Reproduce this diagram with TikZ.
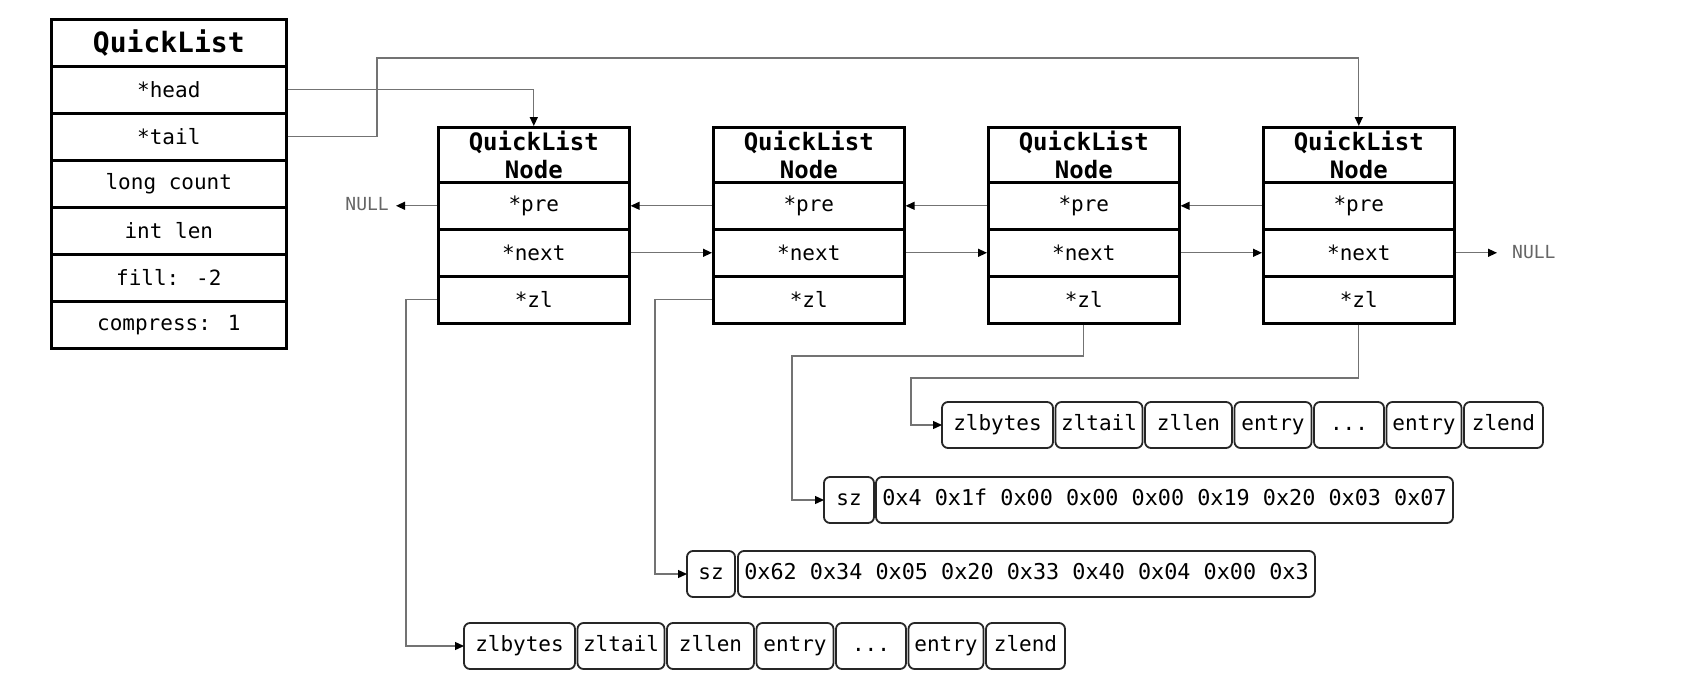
\documentclass[tikz,border=0pt]{standalone}
\usepackage{fontspec}
\setmainfont{DejaVu Sans Mono}
\usetikzlibrary{arrows.meta,positioning,calc}
\begin{document}
\begin{tikzpicture}[x=1pt,y=-1pt,
  qrow/.style={draw=black, line width=2.6pt, anchor=north west, inner sep=0pt,
    minimum width=235pt, minimum height=47pt, font=\fontsize{21}{24}\selectfont},
  qtitle/.style={qrow, font=\fontsize{28}{32}\selectfont\bfseries},
  nrow/.style={draw=black, line width=2.6pt, anchor=north west, inner sep=0pt,
    minimum width=191pt, minimum height=47pt, font=\fontsize{21}{24}\selectfont},
  ntitle/.style={nrow, minimum height=55pt, align=center,
    font=\fontsize{24}{28}\selectfont\bfseries},
  zcell/.style={draw=black!85, line width=1.8pt, rounded corners=6pt, inner sep=0pt,
    outer sep=0pt, text height=15pt, text depth=4pt,
    minimum height=46pt, font=\fontsize{21}{24}\selectfont},
  hexcell/.style={zcell, font=\fontsize{21.8}{24}\selectfont},
  conn/.style={draw=black!55, line width=1.3pt, -{Triangle[length=9pt,width=8pt,color=black]}},
  nulltxt/.style={text=black!60, inner sep=0pt, font=\fontsize{18}{20}\selectfont},
  node distance=2.5pt
]
\useasboundingbox[fill=white] (0,0) rectangle (1685,677);

% QuickList header box
\node[qtitle] (ql0) at (50,18)  {QuickList};
\node[qrow]   (ql1) at (50,65)  {*head};
\node[qrow]   (ql2) at (50,112) {*tail};
\node[qrow]   (ql3) at (50,159) {long count};
\node[qrow]   (ql4) at (50,206) {int len};
\node[qrow]   (ql5) at (50,253) {fill: -2};
\node[qrow]   (ql6) at (50,300) {compress: 1};

% QuickList nodes
\foreach \i/\x in {1/437,2/712,3/987,4/1262}{
  \node[ntitle] (t\i)  at (\x,126) {QuickList\\Node};
  \node[nrow]   (p\i)  at (\x,181) {*pre};
  \node[nrow]   (nx\i) at (\x,228) {*next};
  \node[nrow]   (z\i)  at (\x,275) {*zl};
}

% NULL labels
\node[nulltxt, anchor=east] (nullL) at (389,204.5) {NULL};
\node[nulltxt, anchor=west] (nullR) at (1512,252) {NULL};
\coordinate (eL) at (396,0);
\coordinate (eR) at (1497,0);

% top ziplist
\node[zcell, anchor=north west, minimum width=111pt] (a1) at (942,402) {zlbytes};
\node[zcell, right=of a1, minimum width=87pt] (a2) {zltail};
\node[zcell, right=of a2, minimum width=87pt] (a3) {zllen};
\node[zcell, right=of a3, minimum width=77pt] (a4) {entry};
\node[zcell, right=of a4, minimum width=70pt] (a5) {...};
\node[zcell, right=of a5, minimum width=75pt] (a6) {entry};
\node[zcell, right=of a6, minimum width=79pt] (a7) {zlend};

% hex rows
\node[zcell, anchor=north west, minimum width=50pt] (s1) at (824,477) {sz};
\node[hexcell, anchor=north west, minimum width=577pt] (h1) at (876,477)
  {0x4 0x1f 0x00 0x00 0x00 0x19 0x20 0x03 0x07};
\node[zcell, anchor=north west, minimum width=48pt] (s2) at (687,551) {sz};
\node[hexcell, anchor=north west, minimum width=577pt] (h2) at (738,551)
  {0x62 0x34 0x05 0x20 0x33 0x40 0x04 0x00 0x3};

% bottom ziplist
\node[zcell, anchor=north west, minimum width=111pt] (b1) at (464,623) {zlbytes};
\node[zcell, right=of b1, minimum width=87pt] (b2) {zltail};
\node[zcell, right=of b2, minimum width=87pt] (b3) {zllen};
\node[zcell, right=of b3, minimum width=77pt] (b4) {entry};
\node[zcell, right=of b4, minimum width=70pt] (b5) {...};
\node[zcell, right=of b5, minimum width=75pt] (b6) {entry};
\node[zcell, right=of b6, minimum width=79pt] (b7) {zlend};

% bend points
\coordinate (c1) at (377,58);
\coordinate (k1) at (406,400);
\coordinate (k2) at (655,400);
\coordinate (k3) at (792,356);
\coordinate (k4) at (911,378);

% head / tail
\draw[conn] (ql1.east) -| (t1.north);
\draw[conn] (ql2.east) -| (c1) -| (t4.north);

% pre / next
\draw[conn] (p1.west) -- (p1.west -| eL);
\draw[conn] (p2.west) -- (p1.east);
\draw[conn] (p3.west) -- (p2.east);
\draw[conn] (p4.west) -- (p3.east);
\draw[conn] (nx1.east) -- (nx2.west);
\draw[conn] (nx2.east) -- (nx3.west);
\draw[conn] (nx3.east) -- (nx4.west);
\draw[conn] (nx4.east) -- (nx4.east -| eR);

% zl pointers
\draw[conn] (z1.west) -| (k1) |- (b1.west);
\draw[conn] (z2.west) -| (k2) |- (s2.west);
\draw[conn] (z3.south) |- (k3) |- (s1.west);
\draw[conn] (z4.south) |- (k4) |- (a1.west);
\end{tikzpicture}
\end{document}
